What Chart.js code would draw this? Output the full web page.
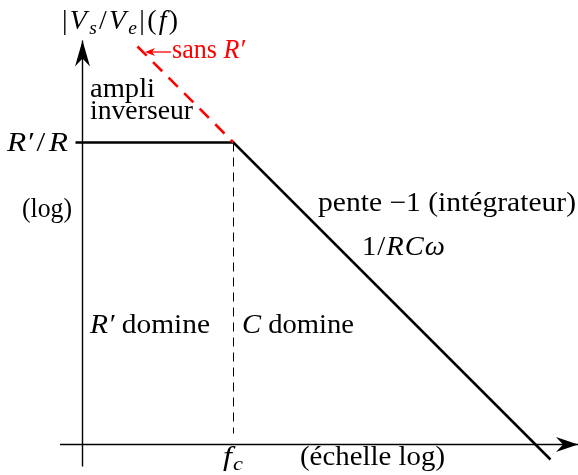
<!DOCTYPE html>
<html><head><meta charset="utf-8">
<script src="https://cdn.jsdelivr.net/npm/chart.js@4.4.1/dist/chart.umd.min.js"></script>
<style>html,body{margin:0;padding:0;background:#fff;overflow:hidden}canvas{display:block}</style>
</head><body>
<canvas id="c" width="578" height="475"></canvas>
<script>
// Bode magnitude asymptotes of the inverting integrator with R' in parallel.
// Both axes are in decades (log10); the cut-off frequency fc sits at 0.
const asymptoteLogF = [-1.58, 0, 3.17];
const asymptoteLogG = [3.02, 3.02, -0.15];
// pure integrator (no R'), continued above the plateau
const integratorLogF = [-0.96, 0];
const integratorLogG = [3.98, 3.02];
// marker at f = fc
const cutoffLogF = [0, 0];
const cutoffLogG = [3.02, 0.11];
// axes
const xAxisLogF = [-1.735, 3.445];
const xAxisLogG = [0, 0];
const yAxisLogF = [-1.51, -1.51];
const yAxisLogG = [-0.22, 4.04];
// visible window
const xRange = [-2.335, 3.445];
const yRange = [-0.305, 4.445];

const pts = (xs, ys) => xs.map((x, i) => ({x, y: ys[i]}));

const FONT = '"Liberation Serif", "Times New Roman", serif';
const FS = 27;

// draws a run of segments [text, italic, subscript], stretched to width w
function drawRich(ctx, l) {
  const gap = l.gap || 0;
  const fontOf = (it, sub) => (it ? 'italic ' : '') + (sub ? FS * 0.7 : FS) + 'px ' + FONT;
  let natural = 0;
  for (const [t, it, sub] of l.s) {
    ctx.font = fontOf(it, sub);
    natural += ctx.measureText(t).width + gap;
  }
  natural -= gap;
  const sx = l.w ? l.w / natural : 1;
  ctx.save();
  ctx.translate(l.x, l.y);
  ctx.scale(sx, 1);
  ctx.fillStyle = l.c;
  ctx.textBaseline = 'alphabetic';
  ctx.textAlign = 'left';
  let cx = 0;
  for (const [t, it, sub] of l.s) {
    ctx.font = fontOf(it, sub);
    ctx.fillText(t, cx, sub ? FS * 0.17 : 0);
    cx += ctx.measureText(t).width + gap;
  }
  ctx.restore();
}

const labels = [
  {x: 62, y: 29, w: 116, gap: 2.2, c: '#000', s: [['|',0],['V',1],['s',1,1],['/',0],['V',1],['e',1,1],['|',0],['(',0],['f',1],[')',0]]},
  {x: 172, y: 58, w: 73, c: '#ff0000', s: [['sans ',0],['R′',1]]},
  {x: 90, y: 97, w: 65, c: '#000', s: [['ampli',0]]},
  {x: 90, y: 119, w: 103, c: '#000', s: [['inverseur',0]]},
  {x: 7, y: 151, w: 61, gap: 3, c: '#000', s: [['R′',1],['/',0],['R',1]]},
  {x: 22, y: 217, w: 50, c: '#000', s: [['(log)',0]]},
  {x: 318, y: 211, w: 258, c: '#000', s: [['pente −1 (intégrateur)',0]]},
  {x: 362, y: 255, w: 83, gap: 1, c: '#000', s: [['1',0],['/',0],['R',1],['C',1],['ω',1]]},
  {x: 90, y: 333, w: 120, c: '#000', s: [['R′',1],[' domine',0]]},
  {x: 242, y: 333, w: 112, c: '#000', s: [['C',1],[' domine',0]]},
  {x: 223, y: 465, w: 20, gap: 1, c: '#000', s: [['f',1],['c',1,1]]},
  {x: 300, y: 465, w: 145, c: '#000', s: [['(échelle log)',0]]}
];

function stealth(ctx, tx, ty, dx, dy, len, half, notch, color) {
  // arrowhead pointing along (dx,dy)
  const px = -dy, py = dx;
  ctx.beginPath();
  ctx.moveTo(tx, ty);
  ctx.lineTo(tx - dx * len + px * half, ty - dy * len + py * half);
  ctx.lineTo(tx - dx * (len - notch), ty - dy * (len - notch));
  ctx.lineTo(tx - dx * len - px * half, ty - dy * len - py * half);
  ctx.closePath();
  ctx.fillStyle = color;
  ctx.fill();
}

const decorations = {
  id: 'decorations',
  afterDatasetsDraw(chart) {
    const ctx = chart.ctx;
    const xs = chart.scales.x, ys = chart.scales.y;
    // axis arrowheads
    stealth(ctx, xs.getPixelForValue(xAxisLogF[1]), ys.getPixelForValue(xAxisLogG[1]), 1, 0, 22, 7.5, 7, '#000');
    stealth(ctx, xs.getPixelForValue(yAxisLogF[1]), ys.getPixelForValue(yAxisLogG[1]), 0, -1, 26, 7.5, 8, '#000');
    // red pointer to the integrator line
    ctx.save();
    ctx.strokeStyle = '#ff0000';
    ctx.lineWidth = 1.3;
    ctx.beginPath();
    ctx.moveTo(171, 52);
    ctx.lineTo(152, 52);
    ctx.stroke();
    stealth(ctx, 145, 52, -1, 0, 10, 4, 3, '#ff0000');
    ctx.restore();
    for (const l of labels) drawRich(ctx, l);
  }
};

new Chart(document.getElementById('c'), {
  type: 'line',
  data: {
    datasets: [
      {data: pts(xAxisLogF, xAxisLogG), borderColor: '#000', borderWidth: 1.4},
      {data: pts(yAxisLogF, yAxisLogG), borderColor: '#000', borderWidth: 1.4},
      {data: pts(cutoffLogF, cutoffLogG), borderColor: '#000', borderWidth: 1, borderDash: [9, 6]},
      {data: pts(integratorLogF, integratorLogG), borderColor: '#ff0000', borderWidth: 2.6, borderDash: [13, 9]},
      {data: pts(asymptoteLogF, asymptoteLogG), borderColor: '#000', borderWidth: 2.6}
    ]
  },
  options: {
    responsive: false,
    devicePixelRatio: 1,
    animation: false,
    layout: {padding: 0},
    elements: {point: {radius: 0}, line: {tension: 0, fill: false, borderCapStyle: 'butt'}},
    plugins: {legend: {display: false}, tooltip: {enabled: false}},
    scales: {
      x: {type: 'linear', display: false, min: xRange[0], max: xRange[1]},
      y: {type: 'linear', display: false, min: yRange[0], max: yRange[1]}
    }
  },
  plugins: [decorations]
});
</script>
</body></html>
